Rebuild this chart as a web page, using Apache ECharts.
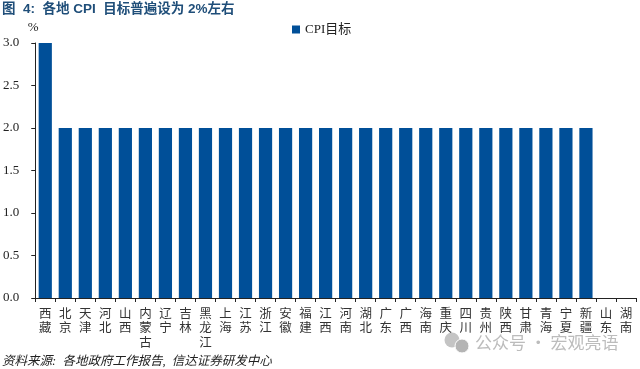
<!DOCTYPE html>
<html><head><meta charset="utf-8">
<style>html,body{margin:0;padding:0;background:#fff}#c{width:640px;height:369px}</style>
<script src="https://cdn.jsdelivr.net/npm/echarts@6/dist/echarts.min.js"></script>
</head><body><div id="c"></div>
<script>
const titleText = '图  4:  各地 CPI  目标普遍设为 2%左右';
const sourceText = '资料来源:  各地政府工作报告,  信达证券研发中心';
const watermarkText = '公众号 · 宏观亮语';
const seriesName = 'CPI目标';
const categories = ['西藏','北京','天津','河北','山西','内蒙古','辽宁','吉林','黑龙江','上海','江苏','浙江','安徽','福建','江西','河南','湖北','广东','广西','海南','重庆','四川','贵州','陕西','甘肃','青海','宁夏','新疆','山东','湖南'];
const values = [3,2,2,2,2,2,2,2,2,2,2,2,2,2,2,2,2,2,2,2,2,2,2,2,2,2,2,2,null,null];
const serif = '"Liberation Serif","Noto Sans CJK SC",serif';
const chart = echarts.init(document.getElementById('c'));
chart.setOption({
  animation:false,
  backgroundColor:'#fff',
  grid:{left:35,right:4,top:43,bottom:71},
  legend:{show:true,data:[seriesName],left:287,top:18,itemWidth:8,itemHeight:8,itemGap:4,icon:'rect',
    textStyle:{fontFamily:serif,fontSize:13,color:'#222'}},
  xAxis:{type:'category',data:categories,
    axisLine:{lineStyle:{color:'#222',width:1}},
    axisTick:{show:true,alignWithLabel:false,length:4,lineStyle:{color:'#222'}},
    axisLabel:{interval:0,margin:9,lineHeight:14.5,fontFamily:serif,fontSize:12.5,color:'#333',
      formatter:v=>v.split('').join('\n')}},
  yAxis:{type:'value',min:0,max:3,interval:0.5,name:'%',nameLocation:'end',nameGap:9,
    nameTextStyle:{fontFamily:serif,fontSize:13,color:'#222',padding:[0,0,0,-4]},
    axisLine:{show:true,lineStyle:{color:'#222',width:1}},
    axisTick:{show:true,length:4,lineStyle:{color:'#222'}},
    splitLine:{show:false},
    axisLabel:{margin:16,fontFamily:serif,fontSize:13,color:'#222',formatter:v=>v.toFixed(1)}},
  series:[{name:seriesName,type:'bar',data:values,barWidth:'66%',itemStyle:{color:'#004f98'}}],
  graphic:[
    {type:'text',left:2,top:3,style:{text:titleText,fill:'#1f4e79',fontSize:13.5,fontWeight:'bold',fontFamily:'"Liberation Sans","Noto Sans CJK SC",sans-serif'}},
    {type:'text',left:2,top:355,style:{text:sourceText,fill:'#222',fontSize:12.5,fontStyle:'italic',fontFamily:serif}},
    {type:'text',left:475,top:334,style:{text:watermarkText,fill:'#bcbcbc',fontSize:17,fontFamily:'"Noto Sans CJK SC",sans-serif'}},
    {type:'circle',shape:{cx:452,cy:340,r:7.5},style:{fill:'#c4c4c4'}},
    {type:'circle',shape:{cx:462,cy:346,r:7},style:{fill:'#b4b4b4',stroke:'#fff',lineWidth:1}}
  ]
});
</script></body></html>
